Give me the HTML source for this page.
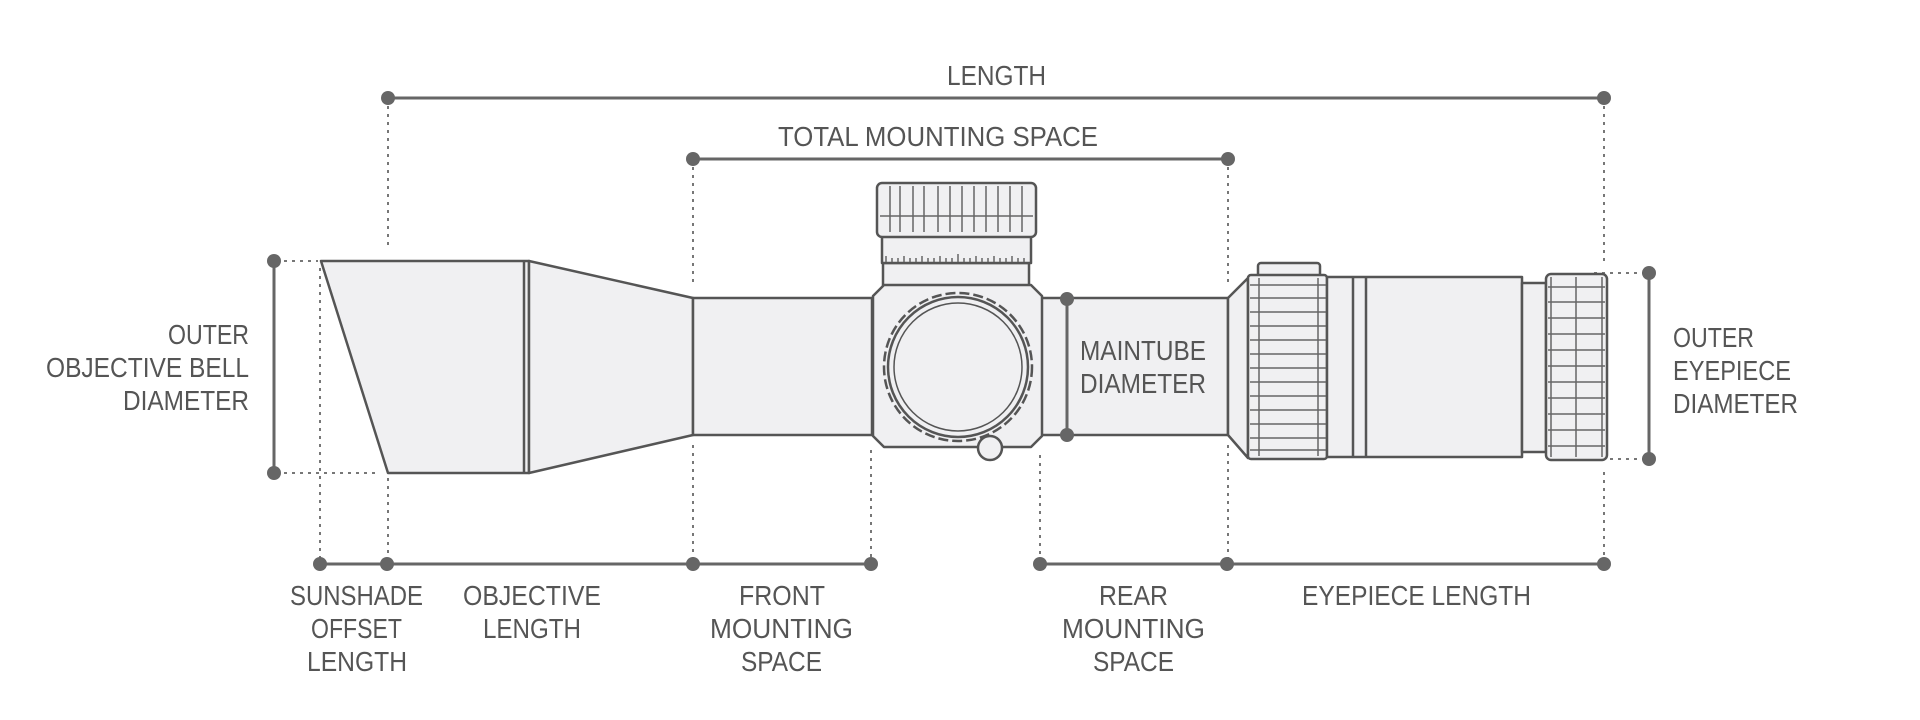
<!DOCTYPE html>
<html><head><meta charset="utf-8"><style>
html,body{margin:0;padding:0;background:#fff;}
svg{display:block;}
text{font-family:"Liberation Sans",sans-serif;font-size:28px;fill:#555;}
</style></head><body>
<svg width="1920" height="720" viewBox="0 0 1920 720" xmlns="http://www.w3.org/2000/svg">
<g stroke="#777" stroke-width="2" stroke-dasharray="3,5" fill="none">
<line x1="388" y1="98" x2="388" y2="245"/>
<line x1="388" y1="478" x2="388" y2="564"/>
<line x1="320" y1="268" x2="320" y2="564"/>
<line x1="693" y1="159" x2="693" y2="285"/>
<line x1="693" y1="445" x2="693" y2="564"/>
<line x1="871" y1="450" x2="871" y2="564"/>
<line x1="1040" y1="455" x2="1040" y2="564"/>
<line x1="1228" y1="159" x2="1228" y2="285"/>
<line x1="1228" y1="445" x2="1228" y2="564"/>
<line x1="1604" y1="98" x2="1604" y2="262"/>
<line x1="1604" y1="472" x2="1604" y2="564"/>
<line x1="276" y1="261" x2="318" y2="261"/>
<line x1="276" y1="473" x2="375" y2="473"/>
<line x1="1594" y1="273" x2="1646" y2="273"/>
<line x1="1594" y1="459" x2="1646" y2="459"/>
</g>
<g stroke="#666" stroke-width="3">
<line x1="388" y1="98" x2="1604" y2="98"/>
<line x1="693" y1="159" x2="1228" y2="159"/>
<line x1="320" y1="564" x2="871" y2="564"/>
<line x1="1040" y1="564" x2="1604" y2="564"/>
<line x1="274" y1="261" x2="274" y2="473"/>
<line x1="1649" y1="273" x2="1649" y2="459"/>
</g>
<!-- scope -->
<g stroke="#555" stroke-width="2.5" fill="#f0f0f2" stroke-linejoin="round">
<polygon points="321,261 529,261 529,473 388,473"/>
<polygon points="529,261 693,298 693,435 529,473"/>
<line x1="524" y1="261" x2="524" y2="473"/>
<rect x="693" y="298" width="179" height="137"/>
<rect x="1040" y="298" width="188" height="137"/>
<polygon points="1228,298 1248,278 1248,458 1228,435"/>
<rect x="1258" y="263" width="62" height="14" rx="3"/>
<rect x="1248" y="275" width="79" height="184" rx="3"/>
<rect x="1327" y="277" width="195" height="180"/>
<line x1="1353" y1="277" x2="1353" y2="457"/>
<line x1="1366" y1="277" x2="1366" y2="457"/>
<rect x="1522" y="283" width="24" height="169"/>
<rect x="1546" y="274" width="61" height="186" rx="5"/>
<!-- saddle -->
<rect x="883" y="263" width="146" height="25"/>
<polygon points="884,285 1031,285 1042,296 1042,436 1031,447 884,447 873,436 873,296"/>
<rect x="882" y="236" width="149" height="27"/>
<rect x="877" y="183" width="159" height="54" rx="5"/>
<circle cx="990" cy="448" r="12"/>
<circle cx="958" cy="367" r="74" stroke-dasharray="10,4"/>
<circle cx="958" cy="367" r="70"/>
<circle cx="958" cy="367" r="64" stroke-width="1.5"/>
</g>
<!-- knurling -->
<g stroke="#666" stroke-width="1.5" fill="none">
<path d="M890 186V232M900 186V232M913 186V232M924 186V232M938 186V232M950 186V232M962 186V232M974 186V232M986 186V232M998 186V232M1010 186V232M1022 186V232"/>
<line x1="880" y1="216" x2="1033" y2="216"/>
<path d="M886 262v-6M892 262v-4M898 262v-4M904 262v-6M910 262v-4M916 262v-4M922 262v-6M928 262v-4M934 262v-4M940 262v-6M946 262v-4M952 262v-4M958 262v-8M964 262v-4M970 262v-4M976 262v-6M982 262v-4M988 262v-4M994 262v-6M1000 262v-4M1006 262v-4M1012 262v-6M1018 262v-4M1024 262v-4"/>
<path d="M1250 285H1326M1250 298H1326M1250 312H1326M1250 326H1326M1250 340H1326M1250 354H1326M1250 368H1326M1250 382H1326M1250 396H1326M1250 410H1326M1250 424H1326M1250 438H1326M1250 450H1326"/>
<line x1="1259" y1="278" x2="1259" y2="456"/><line x1="1318" y1="278" x2="1318" y2="456"/>
<path d="M1548 287H1605M1548 302H1605M1548 318H1605M1548 334H1605M1548 350H1605M1548 366H1605M1548 382H1605M1548 398H1605M1548 414H1605M1548 430H1605M1548 446H1605"/>
<line x1="1576" y1="277" x2="1576" y2="457"/><line x1="1551" y1="277" x2="1551" y2="457"/><line x1="1602" y1="277" x2="1602" y2="457"/>
</g>
<line x1="1067" y1="299" x2="1067" y2="435" stroke="#666" stroke-width="3"/>
<g fill="#666">
<circle cx="388" cy="98" r="7"/><circle cx="1604" cy="98" r="7"/>
<circle cx="693" cy="159" r="7"/><circle cx="1228" cy="159" r="7"/>
<circle cx="320" cy="564" r="7"/><circle cx="387" cy="564" r="7"/><circle cx="693" cy="564" r="7"/><circle cx="871" cy="564" r="7"/>
<circle cx="1040" cy="564" r="7"/><circle cx="1227" cy="564" r="7"/><circle cx="1604" cy="564" r="7"/>
<circle cx="274" cy="261" r="7"/><circle cx="274" cy="473" r="7"/>
<circle cx="1649" cy="273" r="7"/><circle cx="1649" cy="459" r="7"/>
<circle cx="1067" cy="299" r="7"/><circle cx="1067" cy="435" r="7"/>
</g>
<g lengthAdjust="spacingAndGlyphs">
<text x="947" y="85" textLength="99" lengthAdjust="spacingAndGlyphs">LENGTH</text>
<text x="778" y="146" textLength="320" lengthAdjust="spacingAndGlyphs">TOTAL MOUNTING SPACE</text>
<text x="168" y="344" textLength="81" lengthAdjust="spacingAndGlyphs">OUTER</text>
<text x="46" y="377" textLength="203" lengthAdjust="spacingAndGlyphs">OBJECTIVE BELL</text>
<text x="123" y="410" textLength="126" lengthAdjust="spacingAndGlyphs">DIAMETER</text>
<text x="1080" y="360" textLength="126" lengthAdjust="spacingAndGlyphs">MAINTUBE</text>
<text x="1080" y="393" textLength="126" lengthAdjust="spacingAndGlyphs">DIAMETER</text>
<text x="1673" y="347" textLength="81" lengthAdjust="spacingAndGlyphs">OUTER</text>
<text x="1673" y="380" textLength="118" lengthAdjust="spacingAndGlyphs">EYEPIECE</text>
<text x="1673" y="413" textLength="125" lengthAdjust="spacingAndGlyphs">DIAMETER</text>
<text x="290" y="605" textLength="133" lengthAdjust="spacingAndGlyphs">SUNSHADE</text>
<text x="311" y="638" textLength="91" lengthAdjust="spacingAndGlyphs">OFFSET</text>
<text x="307" y="671" textLength="100" lengthAdjust="spacingAndGlyphs">LENGTH</text>
<text x="463" y="605" textLength="138" lengthAdjust="spacingAndGlyphs">OBJECTIVE</text>
<text x="483" y="638" textLength="98" lengthAdjust="spacingAndGlyphs">LENGTH</text>
<text x="739" y="605" textLength="86" lengthAdjust="spacingAndGlyphs">FRONT</text>
<text x="710" y="638" textLength="143" lengthAdjust="spacingAndGlyphs">MOUNTING</text>
<text x="741" y="671" textLength="81" lengthAdjust="spacingAndGlyphs">SPACE</text>
<text x="1099" y="605" textLength="69" lengthAdjust="spacingAndGlyphs">REAR</text>
<text x="1062" y="638" textLength="143" lengthAdjust="spacingAndGlyphs">MOUNTING</text>
<text x="1093" y="671" textLength="81" lengthAdjust="spacingAndGlyphs">SPACE</text>
<text x="1302" y="605" textLength="229" lengthAdjust="spacingAndGlyphs">EYEPIECE LENGTH</text>
</g>
</svg>
</body></html>
